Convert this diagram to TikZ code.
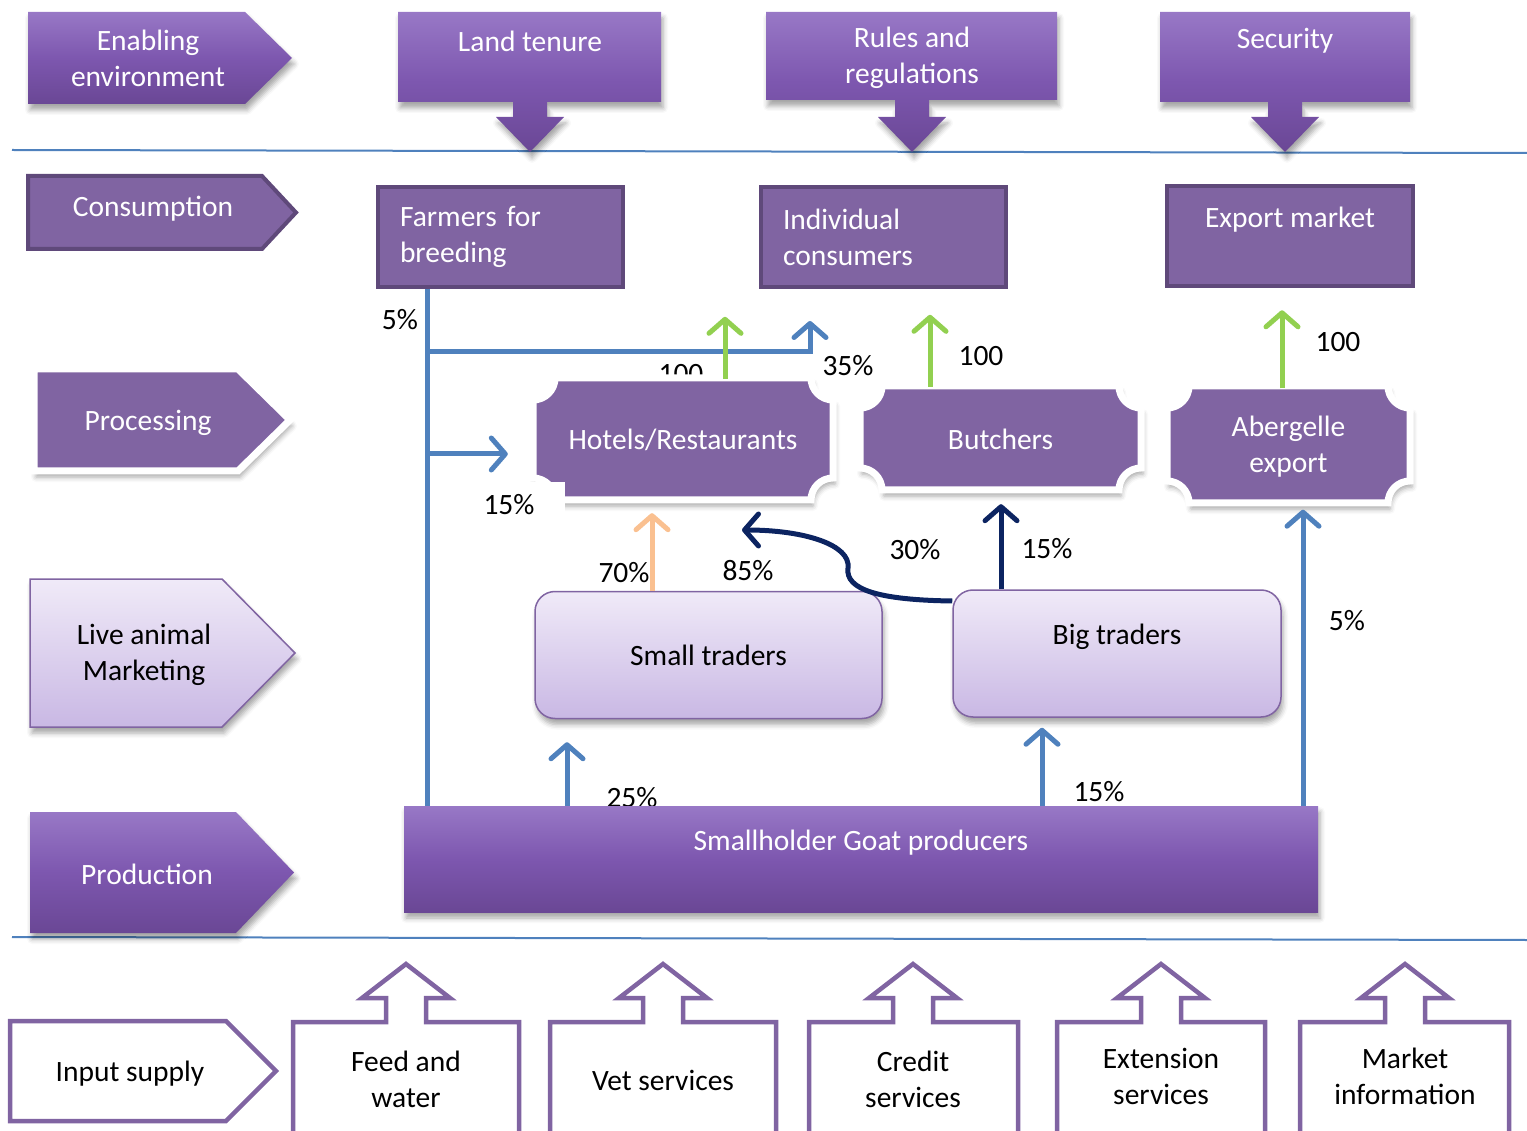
\documentclass[tikz,border=0pt]{standalone}
\usepackage{fontspec}
\setmainfont{Carlito}
\usetikzlibrary{arrows.meta,shadows.blur}

\definecolor{purp}{HTML}{8064A2}
\definecolor{purpline}{HTML}{5F497A}
\definecolor{purptop}{HTML}{9878C6}
\definecolor{purpmid}{HTML}{7D57AF}
\definecolor{purpbot}{HTML}{6A4795}
\definecolor{liltop}{HTML}{F0EAF8}
\definecolor{lilbot}{HTML}{C9B8E4}
\definecolor{flowblue}{HTML}{4F81BD}
\definecolor{navy}{HTML}{0C2461}
\definecolor{leaf}{HTML}{92D050}
\definecolor{peach}{HTML}{FAC090}

\tikzset{
  txt/.style={font=\fontsize{29.5}{36}\selectfont, align=center, inner sep=0pt},
  wtxt/.style={txt, text=white},
  softshadow/.style={blur shadow={shadow xshift=2pt, shadow yshift=-6pt, shadow blur radius=5pt, shadow opacity=35}},
  darkfill/.style={top color=purptop, bottom color=purpbot, middle color=purpmid, draw=none, softshadow},
  darkbox/.style={darkfill, inner sep=0pt},
  flatfill/.style={fill=purp, draw=purpline, line width=4pt},
  flatbox/.style={flatfill, wtxt, inner xsep=22pt},
  plaquefill/.style={fill=purp, draw=white, line width=7pt, softshadow},
  lilfill/.style={top color=liltop, bottom color=lilbot, draw=purp, line width=1.5pt, softshadow},
  lilbox/.style={lilfill, txt, rounded corners=20pt},
  hollow/.style={draw=purp, fill=white, line width=4.5pt},
  sep/.style={draw=flowblue, line width=2pt},
  flowline/.style={line width=5pt},
  flow/.style={line width=5pt, -{Straight Barb[length=14pt,width=32pt,round]}}
}

% arrow shaped boxes of the left column
\newcommand\pentbox[6]{\draw[#6] (#1,#2) -- (#3,#2) -- (#4,{(#2+#5)/2}) -- (#3,#5) -- (#1,#5) -- cycle;}
% boxes with an arrow below
\newcommand\downcallout[5]{\draw[darkfill] (#1,#2) -- (#3,#2) -- (#3,#4) -- (#5+17,#4) -- (#5+17,117) -- (#5+34,117) -- (#5,152) -- (#5-34,117) -- (#5-17,117) -- (#5-17,#4) -- (#1,#4) -- cycle;}
% boxes with an arrow above
\newcommand\upcallout[3]{\draw[hollow] (#1,1145) -- (#1,1022) -- (#3-20,1022) -- (#3-20,998) -- (#3-44,998) -- (#3,964) -- (#3+44,998) -- (#3+20,998) -- (#3+20,1022) -- (#2,1022) -- (#2,1145);}
% boxes with cut corners
\newcommand\plaque[5]{\draw[plaquefill] (#1+#5,#2) -- (#3-#5,#2) arc[start angle=180,end angle=90,radius=#5] -- (#3,#4-#5) arc[start angle=270,end angle=180,radius=#5] -- (#1+#5,#4) arc[start angle=0,end angle=-90,radius=#5] -- (#1,#2+#5) arc[start angle=90,end angle=0,radius=#5] -- cycle;}

\begin{document}
\begin{tikzpicture}[x=1pt,y=-1pt]
\useasboundingbox (0,0) rectangle (1527,1131);
% separators
\draw[sep] (12,150) -- (1527,153);
\draw[sep] (12,937) -- (1527,940);

% enabling environment
\pentbox{28}{12}{245}{292}{104}{darkfill}
\node[wtxt] (enab) at (148,58) {Enabling\\environment};
\downcallout{398}{12}{661}{102}{530}
\node[wtxt] (land) at (530,41) {Land tenure};
\downcallout{766}{12}{1057}{100}{912}
\node[wtxt] (rules) at (912,58) {Rules and\\regulations};
\downcallout{1160}{12}{1410}{102}{1285}
\node[wtxt] (secu) at (1285,41) {Security};

% consumption
\pentbox{28}{176}{262}{296}{249}{flatfill}
\node[wtxt] (cons) at (153,209) {Consumption};
\node[flatbox, minimum width=245pt, minimum height=100pt, text width=201pt, align=left] (farm) at (500.5,237) {Farmers for\\breeding};
\node[flatbox, minimum width=245pt, minimum height=100pt, text width=201pt, align=left] (indv) at (883.5,237) {Individual\\consumers};
\node[flatbox, minimum width=246pt, minimum height=100pt] (expm) at (1290,236) {};
\node[wtxt] (expmtxt) at (1290,220) {Export market};

% processing
\pentbox{34}{369}{238}{290}{471}{plaquefill}
\node[wtxt] (proc) at (148,423) {Processing};
\node[txt] (h100) at (681,374) {100};
\plaque{533}{378}{833}{500}{22}
\node[wtxt, minimum width=300pt, minimum height=122pt] (hotel) at (683,440) {Hotels/Restaurants};
\plaque{860}{386}{1141}{490}{22}
\node[wtxt, minimum width=281pt, minimum height=104pt] (butch) at (1000.5,439) {Butchers};
\plaque{1167}{386}{1410}{503}{22}
\node[wtxt, minimum width=243pt, minimum height=117pt] (aberg) at (1288.5,447) {Abergelle\\export};

% live animal marketing
\pentbox{30}{579}{222}{295}{727}{lilfill}
\node[txt] (live) at (144,655) {Live animal\\Marketing};
\node[lilbox, minimum width=347pt, minimum height=127pt] (small) at (708.5,655) {Small traders};
\node[lilbox, minimum width=328pt, minimum height=127pt] (big) at (1117,653.5) {};
\node[txt] (bigtxt) at (1117,637) {Big traders};

% production
\pentbox{30}{812}{236}{294}{933}{darkfill}
\node[wtxt] (prodl) at (147,874) {Production};
\node[txt] (p25) at (632,798) {25\%};
\node[darkbox, minimum width=914pt, minimum height=106pt] (prod) at (861,859) {};
\node[wtxt] (prodtxt) at (861,843) {Smallholder Goat producers};

% input supply
\pentbox{10}{1021}{226}{276}{1121}{hollow}
\node[txt] (inp) at (130,1074) {Input supply};
\upcallout{293}{519}{406}
\node[txt] (feed) at (406,1079) {Feed and\\water};
\upcallout{550}{776}{663}
\node[txt] (vet) at (663,1080) {Vet services};
\upcallout{809}{1018}{913}
\node[txt] (cred) at (913,1079) {Credit\\services};
\upcallout{1057}{1265}{1161}
\node[txt] (ext) at (1161,1076) {Extension\\services};
\upcallout{1300}{1509}{1405}
\node[txt] (mkt) at (1405,1076) {Market\\information};

% flows
\coordinate (trunk) at (427,0);
\coordinate (j1) at (427,352);
\coordinate (j2) at (427,454);
\coordinate (ic) at ([xshift=-73.5pt]indv.south);
\draw[flowline, flowblue] (farm.south -| trunk) -- (prod.north -| trunk);
\draw[flow, flowblue, shorten >=32pt] (j1) -- (j1 -| ic) -- (ic);
\draw[flow, flowblue, shorten >=25pt] (j2) -- (j2 -| hotel.west);
\draw[flow, leaf] ([xshift=42pt]hotel.north) -- ++(0,-62);
\draw[flow, leaf] ([xshift=-70.5pt]butch.north) -- ++(0,-72);
\draw[flow, leaf] ([xshift=-6.5pt]aberg.north) -- ++(0,-78);
\draw[flow, peach, shorten >=12pt] ([xshift=-56.5pt]small.north) coordinate (s1) -- (s1 |- hotel.south);
\draw[flow, navy, shorten >=13pt] ([xshift=-116pt]big.north) coordinate (b1) -- (b1 |- butch.south);
\coordinate (bk) at (742,530);
\draw[flow, navy] ([yshift=52.5pt]big.west) .. controls (880,600) and (845,590) .. (848,568) .. controls (851,545) and (805,530) .. (bk);
\draw[flow, flowblue, shorten >=23pt] ([xshift=-294pt]prod.north) coordinate (u1) -- (u1 |- small.south);
\draw[flow, flowblue, shorten >=10pt] ([xshift=181pt]prod.north) coordinate (u2) -- (u2 |- big.south);
\draw[flow, flowblue, shorten >=4pt] ([xshift=442pt]prod.north) coordinate (u3) -- (u3 |- aberg.south);

% shares
\node[txt] (p5a) at (400,320) {5\%};
\node[txt] (p35) at (848,366) {35\%};
\fill[white] (478,482) rectangle (565,522);
\node[txt] (p15a) at (509,505) {15\%};
\node[txt] (b100) at (981,356) {100};
\node[txt] (a100) at (1338,342) {100};
\node[txt] (p70) at (624,573) {70\%};
\node[txt] (p85) at (748,571) {85\%};
\node[txt] (p30) at (915,550) {30\%};
\node[txt] (p15b) at (1047,549) {15\%};
\node[txt] (p15c) at (1099,792) {15\%};
\node[txt] (p5b) at (1347,621) {5\%};
\end{tikzpicture}
\end{document}
